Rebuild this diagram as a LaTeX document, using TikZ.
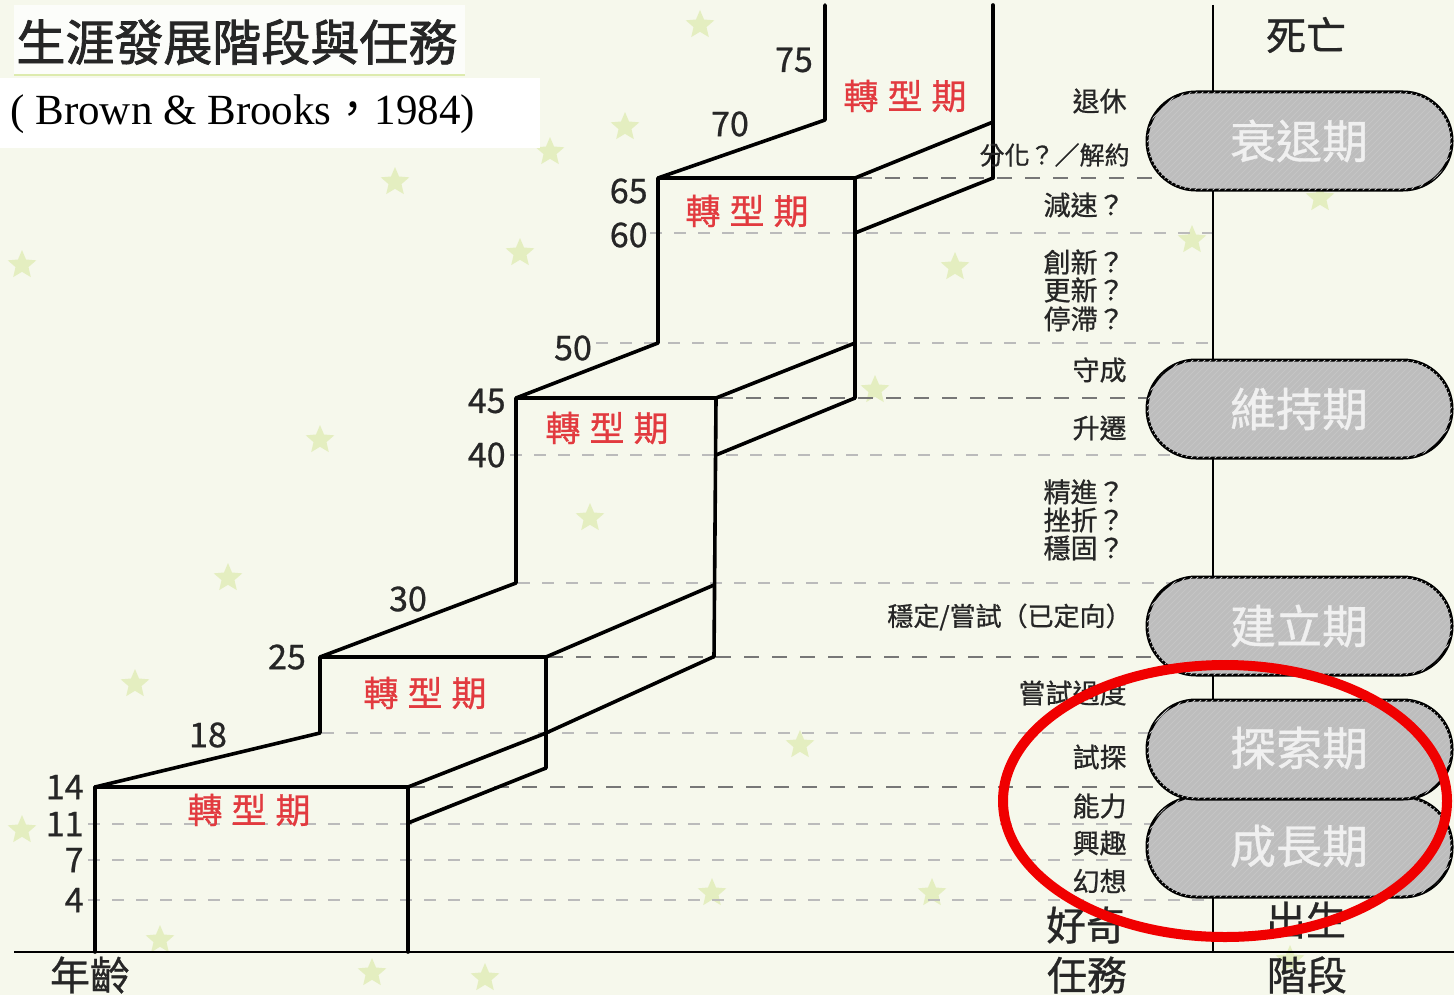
\documentclass[tikz,border=0pt]{standalone}
\usepackage{fontspec}
\setmainfont{Noto Sans CJK TC}[FakeBold=0.8]
\newfontfamily\tnr{Liberation Serif}
\newfontfamily\cjk{Noto Sans CJK TC}
\newfontfamily\cjkheavy{Noto Sans CJK TC}[FakeBold=1.6]
\usetikzlibrary{shapes.geometric,patterns}
\definecolor{bgc}{HTML}{F6F8EC}
\definecolor{starc}{HTML}{CFE38C}
\definecolor{redt}{HTML}{E23A3F}
\definecolor{pillc}{HTML}{BDBDBD}
\definecolor{dashl}{HTML}{BBBBBB}
\definecolor{dashd}{HTML}{777777}
\definecolor{ringc}{HTML}{F00000}
\tikzset{
  fs/.style={font=\fontsize{#1}{#1}\selectfont},
  stair/.style={line width=1.8pt, line cap=round, line join=round},
  dl/.style={draw=dashl, line width=0.8pt, dash pattern=on 6pt off 6pt},
  dd/.style={draw=dashd, line width=1.1pt, dash pattern=on 7.5pt off 6.5pt},
  age/.style={fs=17, inner sep=0pt, text=black!85},
  task/.style={fs=13.5, anchor=east, inner sep=0pt, text=black!85},
  turn/.style={fs=17.5, text=redt, inner sep=0pt},
  pill/.style={draw=black, line width=1.5pt, fill=pillc, rounded corners=24.5pt,
    postaction={pattern=north east lines, pattern color=pillc!88!white}},
  pilltxt/.style={fs=23, text=white!94!black, inner sep=0pt},
  big/.style={fs=20, inner sep=0pt, text=black!85},
  bgstar/.style={star, star points=5, star point ratio=2.2, fill=starc, draw=none,
    opacity=0.45, minimum size=#1, inner sep=0pt},
  bgstar/.default=15pt,
}
\newcommand{\turnlabel}{轉\hspace{4.5pt}型\hspace{4.5pt}期}
\begin{document}
\begin{tikzpicture}[x=0.5pt,y=-0.5pt]
\useasboundingbox (0,0) rectangle (1454,995);
% background
\fill[bgc] (0,0) rectangle (1454,995);
\foreach \sx/\sy in {395/182,520/253,550/152,625/127,320/440,228/578,135/684,590/518,
  22/265,955/267,1192/240,875/390,800/745,712/893,932/893,485/978,372/973,160/940,
  1320/198,22/830,700/25,1290/960}
  \node[bgstar] at (\sx,\sy) {};
% title boxes
\fill[white,opacity=0.75] (14,5) rectangle (465,74);
\draw[starc!70!white, line width=0.6pt] (14,75) -- (465,75);
\fill[white] (0,78) rectangle (540,148);
\node[anchor=west, inner sep=0pt, text=black!85, font=\cjkheavy\fontsize{24.5}{24.5}\selectfont] (title) at (16,42) {生涯發展階段與任務};
\node[anchor=west, inner sep=0pt, font=\tnr\fontsize{21.5}{21.5}\selectfont] (subtitle) at (10,114)
  {( Brown \& Brooks{\cjk ，}1984)};
% dashed age lines
\draw[dl] (88,900) -- (1213,900);
\draw[dl] (88,860) -- (1213,860);
\draw[dl] (88,824) -- (1213,824);
\draw[dd] (410,787) -- (1213,787);
\draw[dl] (322,733) -- (1213,733);
\draw[dd] (548,657) -- (1213,657);
\draw[dl] (518,583) -- (1213,583);
\draw[dl] (510,455) -- (1213,455);
\draw[dd] (718,398) -- (1213,398);
\draw[dl] (596,343) -- (1213,343);
\draw[dl] (650,233) -- (1213,233);
\draw[dd] (857,178) -- (1213,178);
% staircase
\draw[stair] (95,952) -- (95,787) -- (408,787) -- (408,952);
\draw[stair] (95,787) -- (320,733) -- (320,657) -- (546,657) -- (546,768);
\draw[stair] (408,787) -- (546,733) -- (713,657);
\draw[stair] (408,823) -- (546,768);
\draw[stair] (546,657) -- (714,585);
\draw[stair] (320,657) -- (516,583) -- (516,398) -- (716,398) -- (714,657);
\draw[stair] (716,398) -- (855,343);
\draw[stair] (716,455) -- (855,398);
\draw[stair] (516,398) -- (658,343) -- (658,178) -- (855,178) -- (855,398);
\draw[stair] (855,178) -- (993,122);
\draw[stair] (855,233) -- (993,178);
\draw[stair] (658,178) -- (825,120) -- (825,5);
\draw[stair] (993,5) -- (993,178);
% axes
\draw[line width=1.2pt] (1213,5) -- (1213,952);
\draw[line width=1.2pt] (14,952) -- (1454,952);
% pills
\draw[pill] (1147,92) rectangle (1452,190);
\draw[pill] (1147,360) rectangle (1452,458);
\draw[pill] (1147,577) rectangle (1452,675);
\draw[pill] (1147,797) rectangle (1452,897);
\draw[pill] (1147,700) rectangle (1452,799);
\node[pilltxt] (p1) at (1299,141) {衰退期};
\node[pilltxt] (p2) at (1299,409) {維持期};
\node[pilltxt] (p3) at (1299,626) {建立期};
\node[pilltxt] (p4) at (1299,748) {探索期};
\node[pilltxt] (p5) at (1299,846) {成長期};
% age numbers
\node[age, anchor=east] (a4) at (84,900) {4};
\node[age, anchor=east] (a7) at (84,860) {7};
\node[age, anchor=east] (a11) at (84,824) {11};
\node[age, anchor=east] (a14) at (84,787) {14};
\node[age] (a18) at (208,735) {18};
\node[age] (a25) at (287,657) {25};
\node[age] (a30) at (408,599) {30};
\node[age, anchor=east] (a40) at (506,455) {40};
\node[age, anchor=east] (a45) at (506,401) {45};
\node[age] (a50) at (573,348) {50};
\node[age, anchor=east] (a60) at (648,235) {60};
\node[age, anchor=east] (a65) at (648,191) {65};
\node[age] (a70) at (730,124) {70};
\node[age] (a75) at (794,60) {75};
% transition labels
\node[turn] (r1) at (905,96) {\turnlabel};
\node[turn] (r2) at (747,211) {\turnlabel};
\node[turn] (r3) at (607,428) {\turnlabel};
\node[turn] (r4) at (425,693) {\turnlabel};
\node[turn] (r5) at (249,810) {\turnlabel};
% tasks
\node[task] (k1) at (1127,101) {退休};
\node[task, fs=12.5] (k2) at (1130,155) {分化？／解約};
\node[task] (k3) at (1125,205) {減速？};
\node[task] (k4) at (1125,262) {創新？};
\node[task] (k5) at (1125,290) {更新？};
\node[task] (k6) at (1125,319) {停滯？};
\node[task] (k7) at (1127,370) {守成};
\node[task] (k8) at (1127,428) {升遷};
\node[task] (k9) at (1125,492) {精進？};
\node[task] (k10) at (1125,520) {挫折？};
\node[task] (k11) at (1125,548) {穩固？};
\node[task, fs=13] (k12) at (1132,617) {穩定/嘗試（已定向）};
\node[task] (k13) at (1127,693) {嘗試過度};
\node[task] (k14) at (1127,757) {試探};
\node[task] (k15) at (1127,806) {能力};
\node[task] (k16) at (1127,843) {興趣};
\node[task] (k17) at (1127,881) {幻想};
\node[big] (k18) at (1086,925) {好奇};
% column labels
\node[big] (death) at (1306,35) {死亡};
\node[big] (birth) at (1306,920) {出生};
\node[big] (ageh) at (90,975) {年齡};
\node[big] (taskh) at (1087,975) {任務};
\node[big] (stageh) at (1307,975) {階段};
% highlight ring
\draw[ringc, line width=5pt] (1225,801) ellipse [x radius=111pt, y radius=68pt];
\end{tikzpicture}
\end{document}
